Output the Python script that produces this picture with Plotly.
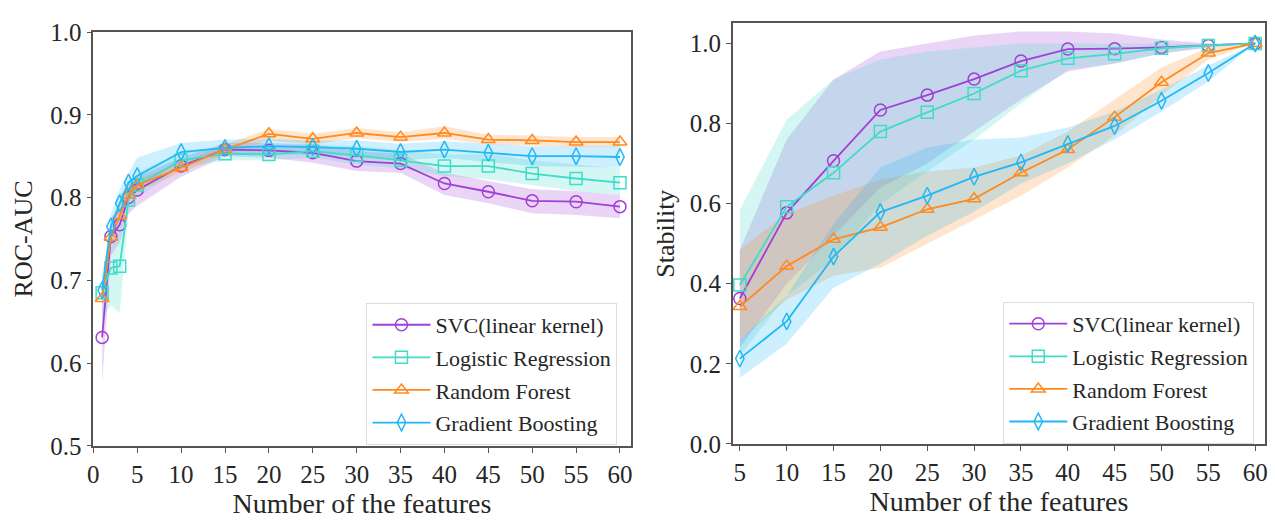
import plotly.graph_objects as go

# ---- feature counts ----
n_feat_auc = [1, 2, 3, 4, 5, 10, 15, 20, 25, 30, 35, 40, 45, 50, 55, 60]
n_feat_stab = [5, 10, 15, 20, 25, 30, 35, 40, 45, 50, 55, 60]

# ---- ROC-AUC: mean, lower, upper ----
svc_auc = [0.631, 0.753, 0.767, 0.800, 0.809, 0.838, 0.858, 0.857, 0.854, 0.844, 0.841, 0.817, 0.807, 0.796, 0.795, 0.789]
svc_auc_lo = [0.575, 0.730, 0.745, 0.780, 0.790, 0.825, 0.850, 0.848, 0.842, 0.832, 0.830, 0.803, 0.793, 0.781, 0.779, 0.775]
svc_auc_hi = [0.690, 0.775, 0.790, 0.820, 0.825, 0.848, 0.866, 0.866, 0.864, 0.856, 0.853, 0.830, 0.820, 0.810, 0.808, 0.803]

lr_auc = [0.685, 0.715, 0.717, 0.797, 0.815, 0.845, 0.853, 0.852, 0.856, 0.851, 0.845, 0.838, 0.838, 0.829, 0.823, 0.818]
lr_auc_lo = [0.655, 0.670, 0.660, 0.780, 0.800, 0.835, 0.845, 0.845, 0.848, 0.840, 0.835, 0.826, 0.822, 0.815, 0.808, 0.803]
lr_auc_hi = [0.710, 0.760, 0.775, 0.815, 0.830, 0.855, 0.862, 0.862, 0.864, 0.862, 0.857, 0.852, 0.852, 0.845, 0.840, 0.835]

rf_auc = [0.678, 0.752, 0.778, 0.803, 0.815, 0.836, 0.858, 0.877, 0.871, 0.878, 0.873, 0.878, 0.870, 0.869, 0.867, 0.867]
rf_auc_lo = [0.668, 0.745, 0.770, 0.797, 0.808, 0.830, 0.852, 0.869, 0.864, 0.872, 0.867, 0.871, 0.864, 0.863, 0.861, 0.861]
rf_auc_hi = [0.688, 0.760, 0.786, 0.810, 0.822, 0.842, 0.864, 0.883, 0.877, 0.884, 0.879, 0.886, 0.876, 0.875, 0.873, 0.873]

gb_auc = [0.688, 0.765, 0.793, 0.818, 0.826, 0.855, 0.860, 0.862, 0.861, 0.859, 0.855, 0.858, 0.854, 0.850, 0.850, 0.849]
gb_auc_lo = [0.675, 0.750, 0.775, 0.805, 0.812, 0.843, 0.851, 0.853, 0.851, 0.849, 0.845, 0.848, 0.843, 0.838, 0.837, 0.836]
gb_auc_hi = [0.700, 0.780, 0.810, 0.830, 0.848, 0.866, 0.870, 0.871, 0.869, 0.869, 0.865, 0.868, 0.865, 0.862, 0.862, 0.862]

# ---- Stability: mean, lower, upper ----
svc_stab = [0.363, 0.577, 0.707, 0.834, 0.871, 0.911, 0.956, 0.986, 0.987, 0.990, 0.995, 1.000]
svc_stab_lo = [0.240, 0.400, 0.520, 0.640, 0.700, 0.780, 0.860, 0.930, 0.950, 0.975, 0.990, 1.000]
svc_stab_hi = [0.485, 0.760, 0.910, 0.980, 1.000, 1.020, 1.030, 1.030, 1.025, 1.010, 1.000, 1.000]

lr_stab = [0.397, 0.592, 0.677, 0.780, 0.828, 0.875, 0.932, 0.963, 0.974, 0.988, 0.995, 1.000]
lr_stab_lo = [0.220, 0.370, 0.460, 0.600, 0.680, 0.760, 0.850, 0.935, 0.950, 0.975, 0.990, 1.000]
lr_stab_hi = [0.585, 0.810, 0.910, 0.960, 0.980, 0.990, 1.000, 1.000, 1.000, 1.000, 1.000, 1.000]

rf_stab = [0.343, 0.444, 0.511, 0.541, 0.586, 0.612, 0.677, 0.735, 0.816, 0.903, 0.976, 1.000]
rf_stab_lo = [0.260, 0.360, 0.420, 0.440, 0.500, 0.560, 0.620, 0.690, 0.770, 0.870, 0.960, 1.000]
rf_stab_hi = [0.485, 0.575, 0.620, 0.660, 0.680, 0.690, 0.720, 0.780, 0.860, 0.940, 0.990, 1.000]

gb_stab = [0.213, 0.306, 0.468, 0.579, 0.620, 0.667, 0.703, 0.749, 0.794, 0.857, 0.926, 1.000]
gb_stab_lo = [0.165, 0.250, 0.390, 0.450, 0.520, 0.580, 0.650, 0.700, 0.760, 0.830, 0.905, 1.000]
gb_stab_hi = [0.260, 0.370, 0.550, 0.690, 0.740, 0.760, 0.765, 0.790, 0.830, 0.885, 0.945, 1.000]

model_names = ["SVC(linear kernel)", "Logistic Regression", "Random Forest", "Gradient Boosting"]
colors = ["#a13fd6", "#3fdcc8", "#ff8a1e", "#22b8f5"]
fills = ["rgba(161,63,214,0.22)", "rgba(63,220,200,0.22)", "rgba(255,138,30,0.22)", "rgba(34,184,245,0.22)"]
symbols = ["circle-open", "square-open", "triangle-up-open", "diamond-tall-open"]

FONT = "Liberation Serif"
TXT = "#262626"

fig = go.Figure()


def add_panel(xs, means, lows, highs, xa, ya, legend_id):
    # shaded bands first, then the mean lines on top
    for i in range(len(means)):
        fig.add_trace(go.Scatter(
            x=list(xs) + list(xs)[::-1],
            y=list(highs[i]) + list(lows[i])[::-1],
            fill="toself", fillcolor=fills[i], mode="lines",
            line=dict(width=0), hoverinfo="skip", showlegend=False,
            xaxis=xa, yaxis=ya,
        ))
    for i in range(len(means)):
        fig.add_trace(go.Scatter(
            x=xs, y=means[i], mode="lines+markers", name=model_names[i],
            line=dict(color=colors[i], width=1.8),
            marker=dict(symbol=symbols[i], size=12, color=colors[i],
                        line=dict(width=1.5, color=colors[i])),
            legend=legend_id, legendgroup=f"{legend_id}_{i}",
            xaxis=xa, yaxis=ya,
        ))


add_panel(n_feat_auc,
          [svc_auc, lr_auc, rf_auc, gb_auc],
          [svc_auc_lo, lr_auc_lo, rf_auc_lo, gb_auc_lo],
          [svc_auc_hi, lr_auc_hi, rf_auc_hi, gb_auc_hi],
          "x", "y", "legend")
add_panel(n_feat_stab,
          [svc_stab, lr_stab, rf_stab, gb_stab],
          [svc_stab_lo, lr_stab_lo, rf_stab_lo, gb_stab_lo],
          [svc_stab_hi, lr_stab_hi, rf_stab_hi, gb_stab_hi],
          "x2", "y2", "legend2")

axis_common = dict(
    showgrid=False, zeroline=False, showline=True, mirror=True,
    linecolor="#555555", linewidth=1.5, ticks="outside", ticklen=5,
    tickwidth=1.2, tickcolor="#555555",
    tickfont=dict(family=FONT, size=25, color=TXT),
)
xtitle_font = dict(family=FONT, size=28, color=TXT)
ytitle_font = dict(family=FONT, size=26, color=TXT)

legend_common = dict(
    font=dict(family=FONT, size=22, color=TXT),
    bgcolor="rgba(255,255,255,0.85)", bordercolor="#dddddd", borderwidth=1,
    xanchor="right", yanchor="bottom", tracegroupgap=1, traceorder="grouped",
    itemwidth=58,
)

fig.update_layout(
    width=1275, height=531,
    margin=dict(l=0, r=0, t=0, b=0),
    paper_bgcolor="white", plot_bgcolor="white",
    xaxis=dict(domain=[0.069, 0.4933], range=[0, 61.2], tickvals=list(range(0, 61, 5)),
               title=dict(text="Number of the features", font=xtitle_font, standoff=7),
               **axis_common),
    yaxis=dict(domain=[0.1412, 0.9623], range=[0.5, 1.0], tickvals=[0.5, 0.6, 0.7, 0.8, 0.9, 1.0],
               tickformat=".1f",
               title=dict(text="ROC-AUC", font=ytitle_font, standoff=10),
               **axis_common),
    xaxis2=dict(domain=[0.5741, 0.9945], range=[4.25, 61.05], tickvals=list(range(5, 61, 5)),
                anchor="y2",
                title=dict(text="Number of the features", font=xtitle_font, standoff=7),
                **axis_common),
    yaxis2=dict(domain=[0.1450, 0.9793], range=[0, 1.05], tickvals=[0, 0.2, 0.4, 0.6, 0.8, 1.0],
                tickformat=".1f", anchor="x2",
                title=dict(text="Stability", font=ytitle_font, standoff=8),
                **axis_common),
    legend=dict(x=0.483, y=0.143, **legend_common),
    legend2=dict(x=0.986, y=0.145, **legend_common),
)

fig.write_html("out.html")
